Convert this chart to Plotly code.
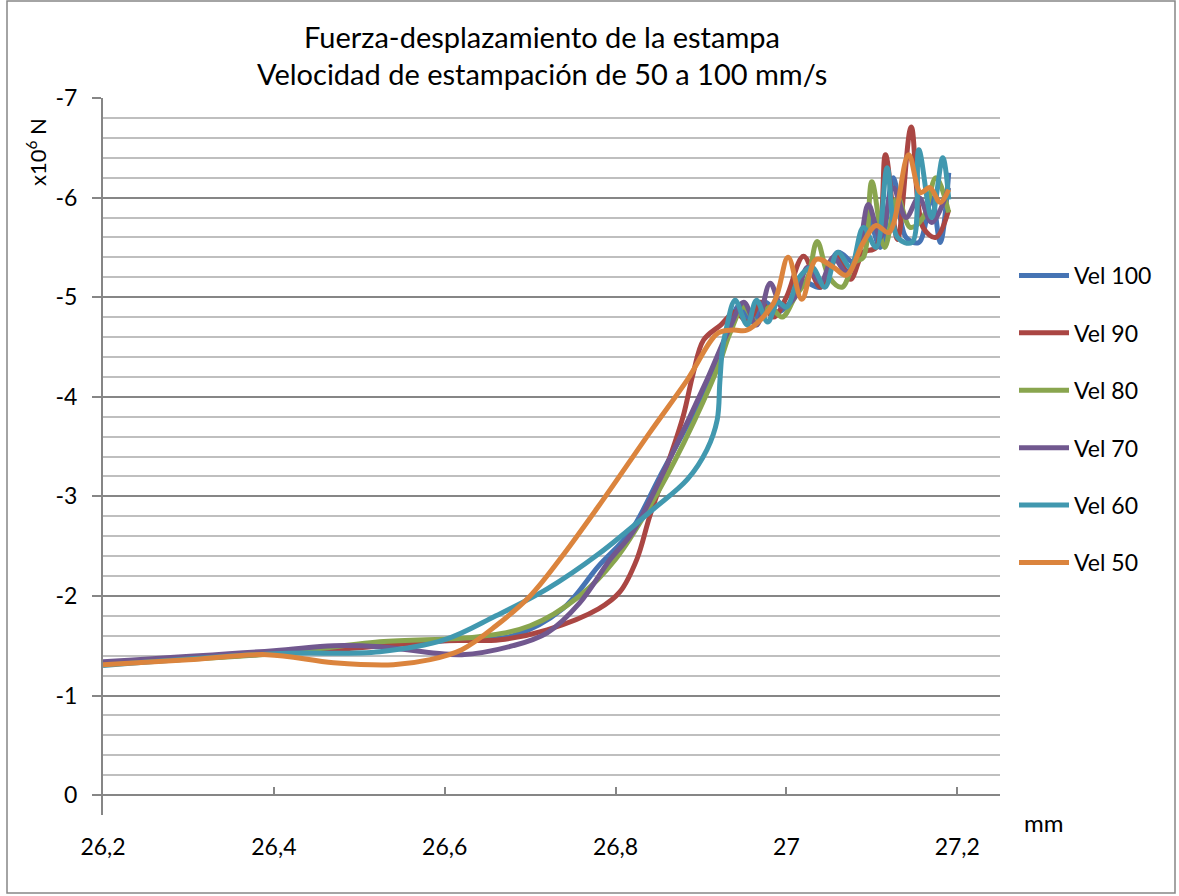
import plotly.graph_objects as go

# Displacement (mm) and force (x10^6 N, negative = compression) per stamping speed
x_vel100 = [26.2, 26.3, 26.4, 26.5, 26.6, 26.68, 26.738, 26.78, 26.817, 26.852, 26.899, 26.93,
            26.945, 26.96, 26.975, 26.99, 27.005, 27.02, 27.04, 27.06, 27.08, 27.095, 27.11,
            27.125, 27.14, 27.155, 27.17, 27.18, 27.19]
y_vel100 = [-1.32, -1.38, -1.44, -1.50, -1.55, -1.60, -1.87, -2.30, -2.64, -3.20, -3.97, -4.60,
            -4.92, -4.75, -4.95, -4.85, -4.95, -5.15, -5.10, -5.45, -5.35, -5.81, -5.50,
            -6.20, -5.60, -5.55, -6.00, -5.55, -6.25]

x_vel90 = [26.2, 26.4, 26.5, 26.6, 26.665, 26.72, 26.78, 26.805, 26.825, 26.84, 26.86, 26.879,
           26.891, 26.903, 26.923, 26.94, 26.955, 26.97, 26.985, 27.0, 27.02, 27.04, 27.06,
           27.075, 27.09, 27.105, 27.116, 27.13, 27.146, 27.16, 27.175, 27.19]
y_vel90 = [-1.32, -1.42, -1.48, -1.55, -1.56, -1.66, -1.87, -2.04, -2.37, -2.80, -3.30, -3.80,
           -4.24, -4.57, -4.72, -4.85, -4.75, -4.95, -4.80, -5.00, -5.41, -5.10, -5.40,
           -5.18, -5.45, -5.50, -6.43, -5.58, -6.71, -5.70, -5.60, -5.88]

x_vel80 = [26.2, 26.4, 26.524, 26.64, 26.7, 26.758, 26.8, 26.84, 26.88, 26.92, 26.934, 26.95,
           26.965, 26.98, 26.995, 27.01, 27.025, 27.036, 27.05, 27.065, 27.08, 27.09, 27.1,
           27.115, 27.13, 27.145, 27.16, 27.175, 27.19]
y_vel80 = [-1.32, -1.42, -1.54, -1.59, -1.70, -2.00, -2.37, -2.90, -3.54, -4.30, -4.64, -4.90,
           -4.75, -4.90, -4.80, -5.00, -5.20, -5.56, -5.20, -5.10, -5.35, -5.40, -6.16,
           -5.50, -6.00, -5.70, -5.80, -6.20, -5.85]

x_vel70 = [26.2, 26.4, 26.47, 26.524, 26.62, 26.68, 26.72, 26.758, 26.794, 26.82, 26.867, 26.907,
           26.934, 26.95, 26.965, 26.981, 26.995, 27.01, 27.025, 27.04, 27.055, 27.07, 27.085,
           27.096, 27.11, 27.125, 27.14, 27.155, 27.17, 27.19]
y_vel70 = [-1.34, -1.45, -1.50, -1.49, -1.41, -1.50, -1.63, -1.93, -2.37, -2.64, -3.44, -4.17,
           -4.70, -4.95, -4.72, -5.14, -4.90, -5.00, -5.30, -5.15, -5.40, -5.25, -5.50,
           -5.93, -5.60, -6.10, -5.80, -6.00, -5.75, -6.10]

x_vel60 = [26.2, 26.4, 26.524, 26.6, 26.66, 26.72, 26.78, 26.844, 26.884, 26.907, 26.919, 26.922,
           26.925, 26.93, 26.94, 26.954, 26.965, 26.978, 26.99, 27.0, 27.015, 27.03, 27.045,
           27.06, 27.075, 27.09, 27.105, 27.118, 27.13, 27.147, 27.155, 27.17, 27.183, 27.19]
y_vel60 = [-1.30, -1.42, -1.44, -1.56, -1.80, -2.07, -2.42, -2.87, -3.17, -3.47, -3.77, -4.14,
           -4.47, -4.70, -4.97, -4.72, -4.97, -4.75, -4.95, -4.90, -5.20, -5.30, -5.10,
           -5.45, -5.30, -5.70, -5.50, -6.30, -5.60, -5.55, -6.48, -5.80, -6.40, -5.98]

x_vel50 = [26.2, 26.3, 26.392, 26.47, 26.54, 26.583, 26.62, 26.66, 26.70, 26.735, 26.78, 26.84,
           26.884, 26.92, 26.938, 26.954, 26.985, 27.002, 27.018, 27.035, 27.055, 27.07,
           27.09, 27.105, 27.12, 27.143, 27.157, 27.168, 27.18, 27.19]
y_vel50 = [-1.31, -1.36, -1.41, -1.33, -1.31, -1.36, -1.46, -1.70, -2.00, -2.37, -2.90, -3.64,
           -4.17, -4.64, -4.67, -4.67, -4.94, -5.40, -4.98, -5.38, -5.30, -5.22,
           -5.55, -5.72, -5.65, -6.43, -6.05, -6.10, -5.95, -6.08]

series_names = ["Vel 100", "Vel 90", "Vel 80", "Vel 70", "Vel 60", "Vel 50"]
series_x = [x_vel100, x_vel90, x_vel80, x_vel70, x_vel60, x_vel50]
series_y = [y_vel100, y_vel90, y_vel80, y_vel70, y_vel60, y_vel50]
series_colors = ["#4674B4", "#AA4643", "#89A54E", "#71588F", "#4198AF", "#DB843D"]

x_tickvals = [26.2, 26.4, 26.6, 26.8, 27.0, 27.2]
x_ticktext = ["26,2", "26,4", "26,6", "26,8", "27", "27,2"]
y_tickvals = [-7, -6, -5, -4, -3, -2, -1, 0]
y_ticktext = ["-7", "-6", "-5", "-4", "-3", "-2", "-1", "0"]

FONT = "Lato"
W, H = 1179, 896
ML, MR, MT, MB = 103, 179, 98, 81
PW, PH = W - ML - MR, H - MT - MB
Y_MIN, Y_MAX = 0.2, -7.0
X_MIN, X_MAX = 26.2, 27.25


def px_to_paper(px, py):
    return (px - ML) / PW, (H - MB - py) / PH


fig = go.Figure()
for name, xs, ys, col in zip(series_names, series_x, series_y, series_colors):
    fig.add_trace(go.Scatter(
        x=xs, y=ys, name=name, mode="lines", legendgroup=name,
        line=dict(color=col, width=5, shape="spline", smoothing=1.0),
    ))

# secondary x axis sitting on y = 0 with short inward ticks
fig.add_trace(go.Scatter(x=[X_MIN], y=[0], xaxis="x2", mode="markers",
                         marker=dict(opacity=0), showlegend=False, hoverinfo="skip"))

axis_gray = "#868686"
fig.update_layout(
    width=W, height=H,
    margin=dict(l=ML, r=MR, t=MT, b=MB),
    paper_bgcolor="white", plot_bgcolor="white",
    font=dict(family=FONT, size=23, color="#000000"),
    showlegend=True,
    legend=dict(x=px_to_paper(1014, 0)[0], y=px_to_paper(0, 254)[1], xanchor="left", yanchor="top",
                font=dict(family=FONT, size=23), tracegroupgap=24.5, itemwidth=50,
                bgcolor="rgba(0,0,0,0)"),
    xaxis=dict(range=[X_MIN, X_MAX], tickvals=x_tickvals, ticktext=x_ticktext,
               showgrid=False, zeroline=False, showline=False, ticks="",
               ticklabelstandoff=16, tickfont=dict(family=FONT, size=23)),
    xaxis2=dict(range=[X_MIN, X_MAX], overlaying="x", anchor="free",
                position=(0 - Y_MIN) / (Y_MAX - Y_MIN), side="bottom",
                tickvals=x_tickvals, showticklabels=False, ticks="inside", ticklen=7,
                tickwidth=1.5, tickcolor=axis_gray, showline=True, linecolor=axis_gray,
                linewidth=2, showgrid=False, zeroline=False),
    yaxis=dict(range=[Y_MIN, Y_MAX], tickvals=y_tickvals, ticktext=y_ticktext,
               showgrid=True, gridcolor=axis_gray, gridwidth=1.5, zeroline=False,
               showline=True, linecolor=axis_gray, linewidth=2,
               ticks="outside", ticklen=9, tickwidth=1.5, tickcolor=axis_gray,
               ticklabelstandoff=10, tickfont=dict(family=FONT, size=23),
               minor=dict(dtick=0.2, tick0=0, showgrid=True, gridcolor="#BFBFBF", gridwidth=1.5,
                          ticks="")),
)

# chart border
bx0, by0 = px_to_paper(7, 893)
bx1, by1 = px_to_paper(1175, 1)
fig.add_shape(type="rect", xref="paper", yref="paper", x0=bx0, y0=by0, x1=bx1, y1=by1,
              line=dict(color=axis_gray, width=1.5), layer="below")

# title lines
for text, py in [("Fuerza-desplazamiento de la estampa", 36),
                 ("Velocidad de estampación de 50 a 100 mm/s", 73)]:
    ax, ay = px_to_paper(542, py)
    fig.add_annotation(text=text, xref="paper", yref="paper", x=ax, y=ay,
                       xanchor="center", yanchor="middle", showarrow=False,
                       font=dict(family=FONT, size=29, color="#000000"))

# axis titles
ax, ay = px_to_paper(37, 152)
fig.add_annotation(text="x10<sup>6</sup> N", xref="paper", yref="paper", x=ax, y=ay,
                   xanchor="center", yanchor="middle", textangle=-90, showarrow=False,
                   font=dict(family=FONT, size=22, color="#000000"))
ax, ay = px_to_paper(1043, 822)
fig.add_annotation(text="mm", xref="paper", yref="paper", x=ax, y=ay,
                   xanchor="center", yanchor="middle", showarrow=False,
                   font=dict(family=FONT, size=24, color="#000000"))

fig.write_html("out.html")
